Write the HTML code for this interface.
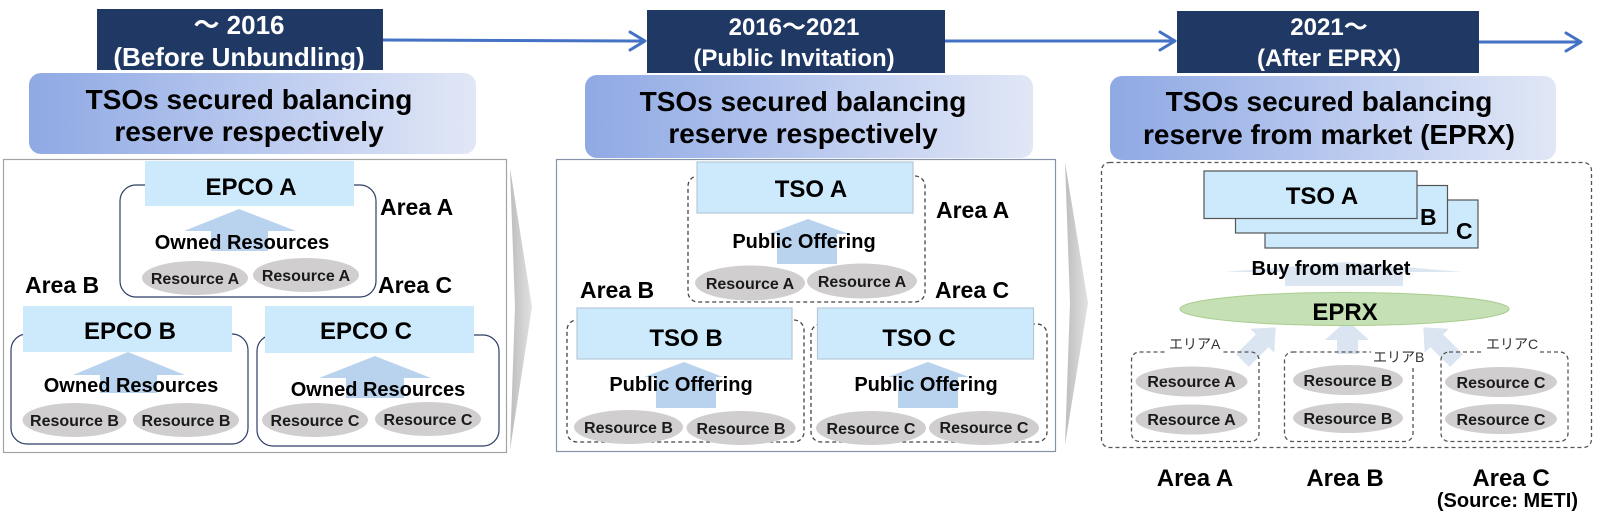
<!DOCTYPE html>
<html><head><meta charset="utf-8">
<style>
html,body{margin:0;padding:0;background:#fff;}
svg{display:block;}
text{font-family:"Liberation Sans","Noto Sans CJK JP",Arial,sans-serif;font-weight:bold;}
</style></head><body>
<svg width="1600" height="514" viewBox="0 0 1600 514" xmlns="http://www.w3.org/2000/svg">
<defs>
<linearGradient id="lg" x1="0" y1="0" x2="1" y2="0">
<stop offset="0" stop-color="#8fa9e4"/><stop offset="0.55" stop-color="#bccbef"/><stop offset="1" stop-color="#e1e7f6"/>
</linearGradient>
<linearGradient id="cg" x1="0" y1="0" x2="1" y2="0">
<stop offset="0" stop-color="#bdbdbd"/><stop offset="1" stop-color="#e2e2e2"/>
</linearGradient>
</defs>

<!-- timeline arrows -->
<g stroke="#4472c4" stroke-width="3" fill="none" stroke-linecap="round" stroke-linejoin="round">
<line x1="383" y1="40" x2="644" y2="41"/>
<polyline points="630,32 645,41 630,50"/>
<line x1="945" y1="41" x2="1174" y2="41"/>
<polyline points="1160,32 1175,41 1160,50"/>
<line x1="1479" y1="42" x2="1580" y2="42"/>
<polyline points="1566,33 1581,42 1566,51"/>
</g>

<!-- dark header boxes -->
<rect x="97" y="9" width="286" height="61" fill="#203864"/>
<rect x="647" y="10" width="298" height="63" fill="#203864"/>
<rect x="1177" y="11" width="302" height="62" fill="#203864"/>
<g fill="#fff" font-size="24" text-anchor="middle">
<text x="239" y="34" font-size="26">～ 2016</text>
<text x="239" y="66" font-size="26">(Before Unbundling)</text>
<text x="794" y="35">2016～2021</text>
<text x="794" y="66">(Public Invitation)</text>
<text x="1329" y="35">2021～</text>
<text x="1329" y="66">(After EPRX)</text>
</g>

<!-- gradient title boxes -->
<rect x="29" y="73" width="447" height="81" rx="12" fill="url(#lg)"/>
<rect x="585" y="75" width="448" height="83" rx="12" fill="url(#lg)"/>
<rect x="1110" y="76" width="446" height="84" rx="12" fill="url(#lg)"/>
<g fill="#000" font-size="28" text-anchor="middle">
<text x="249" y="109">TSOs secured balancing</text>
<text x="249" y="141">reserve respectively</text>
<text x="803" y="111">TSOs secured balancing</text>
<text x="803" y="143">reserve respectively</text>
<text x="1329" y="111">TSOs secured balancing</text>
<text x="1329" y="144">reserve from market (EPRX)</text>
</g>

<!-- chevrons -->
<polygon points="510,168 532,307 510,450 515,307" fill="url(#cg)"/>
<polygon points="1065,162 1088,303 1065,445 1070,303" fill="url(#cg)"/>

<!-- ===== Panel 1 ===== -->
<rect x="3.5" y="159.5" width="503" height="293" fill="#fff" stroke="#a3a3a3" stroke-width="1.2"/>
<g fill="none" stroke="#2f3e66" stroke-width="1.2">
<rect x="120" y="185" width="256" height="112" rx="16"/>
<rect x="11" y="334" width="237" height="110" rx="16"/>
<rect x="257" y="335" width="242" height="111" rx="16"/>
</g>
<g fill="#cceafc">
<rect x="145" y="161" width="209" height="45"/>
<rect x="23" y="306" width="209" height="46"/>
<rect x="265" y="306" width="209" height="47"/>
</g>
<g fill="#b9d3ee">
<polygon points="239,209 296,231 268,231 268,251 211,251 211,231 184,231"/>
<polygon points="128,352 185,375 157,375 157,393 100,393 100,375 73,375"/>
<polygon points="375,356 431,378 404,378 404,398 346,398 346,378 319,378"/>
</g>
<g fill="#000" text-anchor="middle">
<text x="251" y="195" font-size="24">EPCO A</text>
<text x="130" y="339" font-size="24">EPCO B</text>
<text x="366" y="339" font-size="24">EPCO C</text>
<text x="242" y="249" font-size="20">Owned Resources</text>
<text x="131" y="392" font-size="20">Owned Resources</text>
<text x="378" y="396" font-size="20">Owned Resources</text>
</g>
<g fill="#d0cece">
<ellipse cx="195" cy="278" rx="53" ry="17"/>
<ellipse cx="306" cy="275" rx="53" ry="17"/>
<ellipse cx="74.5" cy="420" rx="52" ry="17"/>
<ellipse cx="186" cy="420" rx="53" ry="17"/>
<ellipse cx="315" cy="420" rx="53" ry="17"/>
<ellipse cx="428" cy="419" rx="53" ry="17"/>
</g>
<g fill="#1a1a1a" font-size="16" text-anchor="middle">
<text x="195" y="284">Resource A</text>
<text x="306" y="281">Resource A</text>
<text x="74.5" y="426">Resource B</text>
<text x="186" y="426">Resource B</text>
<text x="315" y="426">Resource C</text>
<text x="428" y="425">Resource C</text>
</g>
<g fill="#000" font-size="23">
<text x="380" y="215">Area A</text>
<text x="378" y="293">Area C</text>
<text x="25" y="293">Area B</text>
</g>

<!-- ===== Panel 2 ===== -->
<rect x="556.5" y="159.5" width="499" height="292" fill="#fff" stroke="#8593ab" stroke-width="1.2"/>
<g fill="none" stroke="#444" stroke-width="1.3" stroke-dasharray="4 3">
<rect x="688" y="176" width="237" height="126" rx="10"/>
<rect x="567" y="320" width="237" height="122" rx="10"/>
<rect x="811" y="324" width="236" height="118" rx="10"/>
</g>
<g fill="#cceafc" stroke="#b4c8d8" stroke-width="1.2">
<rect x="697" y="162" width="216" height="51"/>
<rect x="577" y="308" width="215" height="51"/>
<rect x="817.5" y="308" width="216" height="51"/>
</g>
<g fill="#b9d3ee">
<polygon points="808,219 849,234 837,234 837,264 777,264 777,234 768,234"/>
<polygon points="684,362 723,377 716,377 716,408 656,408 656,377 644,377"/>
<polygon points="928,362 969,377 958,377 958,408 898,408 898,377 888,377"/>
</g>
<g fill="#000" text-anchor="middle">
<text x="811" y="197" font-size="24">TSO A</text>
<text x="686" y="346" font-size="24">TSO B</text>
<text x="919" y="346" font-size="24">TSO C</text>
<text x="804" y="248" font-size="20">Public Offering</text>
<text x="681" y="391" font-size="20">Public Offering</text>
<text x="926" y="391" font-size="20">Public Offering</text>
</g>
<g fill="#d0cece">
<ellipse cx="750" cy="283" rx="55" ry="17.5"/>
<ellipse cx="862" cy="281" rx="55" ry="17.5"/>
<ellipse cx="628.5" cy="427" rx="54.5" ry="17"/>
<ellipse cx="741" cy="428" rx="54.5" ry="17"/>
<ellipse cx="871" cy="428" rx="55" ry="17"/>
<ellipse cx="984" cy="428" rx="55" ry="17"/>
</g>
<g fill="#1a1a1a" font-size="16" text-anchor="middle">
<text x="750" y="289">Resource A</text>
<text x="862" y="287">Resource A</text>
<text x="628.5" y="433">Resource B</text>
<text x="741" y="434">Resource B</text>
<text x="871" y="434">Resource C</text>
<text x="984" y="433">Resource C</text>
</g>
<g fill="#000" font-size="23">
<text x="936" y="218">Area A</text>
<text x="935" y="298">Area C</text>
<text x="580" y="298">Area B</text>
</g>

<!-- ===== Panel 3 ===== -->
<rect x="1101.5" y="162.5" width="490" height="285" rx="8" fill="#fff" stroke="#555" stroke-width="1.3" stroke-dasharray="4 3"/>
<g fill="#cceafc" stroke="#555" stroke-width="1.2">
<rect x="1265" y="200" width="213" height="48"/>
<rect x="1235.5" y="185.5" width="212" height="47.5"/>
<rect x="1204" y="171" width="213" height="47.5"/>
</g>
<g fill="#000">
<text x="1322" y="204" font-size="24" text-anchor="middle">TSO A</text>
<text x="1420" y="225" font-size="23">B</text>
<text x="1456" y="239" font-size="23">C</text>
</g>
<polygon points="1346,262 1462,272 1403,272 1403,286 1285,286 1285,272 1225,272" fill="#dce6f2"/>
<text x="1331" y="275" font-size="20" fill="#000" text-anchor="middle">Buy from market</text>

<!-- lower arrows -->
<g fill="#dae5f1">
<polygon points="1347,320 1369,340 1358,340 1358,354 1337,354 1337,340 1325,340"/>
<polygon transform="translate(1258,345) rotate(45)" points="0,-25 17,-6 9,-6 9,22 -9,22 -9,-6 -17,-6"/>
<polygon transform="translate(1441,345) rotate(-45)" points="0,-25 17,-6 9,-6 9,22 -9,22 -9,-6 -17,-6"/>
</g>

<ellipse cx="1344.5" cy="309" rx="164.5" ry="16.5" fill="#c5e0b4" stroke="#a9cc8f" stroke-width="1"/>
<text x="1345" y="320" font-size="24" fill="#000" text-anchor="middle">EPRX</text>

<g fill="none" stroke="#555" stroke-width="1.3" stroke-dasharray="4 3">
<rect x="1131.5" y="352" width="127.5" height="89.5" rx="8"/>
<rect x="1284.5" y="352" width="128.5" height="89.5" rx="8"/>
<rect x="1441" y="352" width="127" height="89.5" rx="8"/>
</g>
<g fill="#fff">
<rect x="1165" y="338" width="56" height="16"/>
<rect x="1371" y="346" width="50" height="19"/>
<rect x="1482" y="338" width="56" height="16"/>
</g>
<g fill="#333" font-size="14">
<text x="1169" y="349" style="font-weight:normal">エリアA</text>
<text x="1373" y="362" style="font-weight:normal">エリアB</text>
<text x="1486" y="349" style="font-weight:normal">エリアC</text>
</g>

<g fill="#d0cece">
<ellipse cx="1191.5" cy="381.5" rx="56" ry="15"/>
<ellipse cx="1191.5" cy="419.5" rx="56" ry="15"/>
<ellipse cx="1348" cy="380" rx="55" ry="15"/>
<ellipse cx="1348" cy="418" rx="55" ry="15"/>
<ellipse cx="1501" cy="382" rx="56" ry="15"/>
<ellipse cx="1501" cy="419" rx="56" ry="15"/>
</g>
<g fill="#1a1a1a" font-size="16" text-anchor="middle">
<text x="1191.5" y="387">Resource A</text>
<text x="1191.5" y="425">Resource A</text>
<text x="1348" y="386">Resource B</text>
<text x="1348" y="424">Resource B</text>
<text x="1501" y="388">Resource C</text>
<text x="1501" y="425">Resource C</text>
</g>

<g fill="#000" font-size="24" text-anchor="middle">
<text x="1195" y="486">Area A</text>
<text x="1345" y="486">Area B</text>
<text x="1511" y="486">Area C</text>
</g>
<text x="1578" y="507" font-size="20" fill="#000" text-anchor="end">(Source: METI)</text>
</svg>
</body></html>
